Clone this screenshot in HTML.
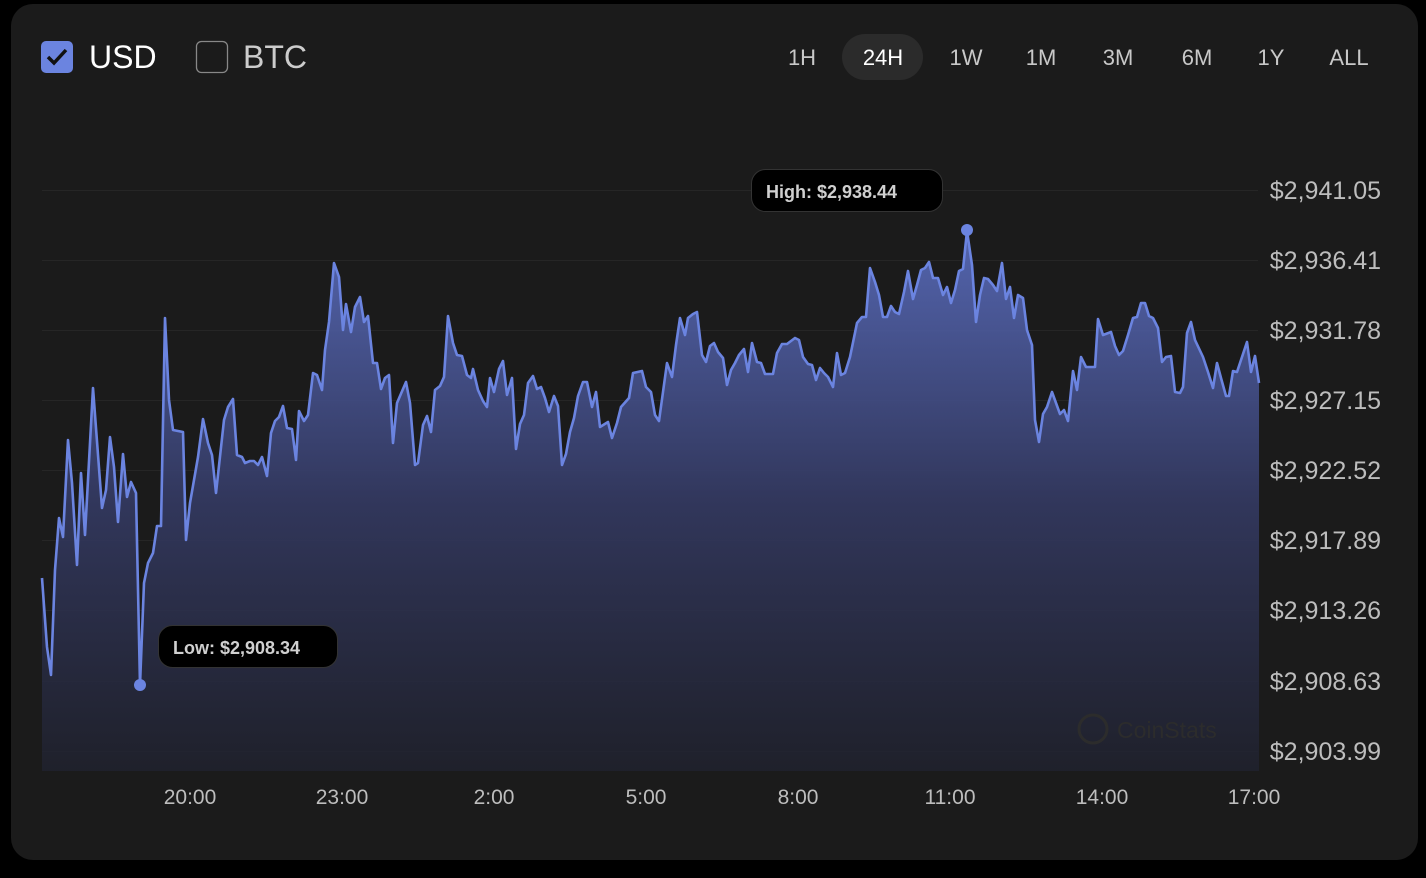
<!DOCTYPE html>
<html><head><meta charset="utf-8"><style>
html,body{margin:0;padding:0;background:#000;width:1426px;height:878px;overflow:hidden;font-family:"Liberation Sans",sans-serif}
.card{position:absolute;left:11px;top:4px;width:1407px;height:856px;background:#1b1b1b;border-radius:22px}
</style></head><body>
<div class="card"></div>
<svg width="1426" height="878" style="position:absolute;left:0;top:0">
<defs><linearGradient id="g" gradientUnits="userSpaceOnUse" x1="0" y1="230" x2="0" y2="771">
<stop offset="0" stop-color="#5a6dbf" stop-opacity="0.9"/><stop offset="0.5" stop-color="#343a63" stop-opacity="0.9"/><stop offset="1" stop-color="#20222f" stop-opacity="0.8"/></linearGradient></defs>
<g stroke="#262626" stroke-width="1">
<line x1="42" x2="1258" y1="190.5" y2="190.5"/><line x1="42" x2="1258" y1="260.5" y2="260.5"/><line x1="42" x2="1258" y1="330.5" y2="330.5"/><line x1="42" x2="1258" y1="400.5" y2="400.5"/><line x1="42" x2="1258" y1="470.5" y2="470.5"/><line x1="42" x2="1258" y1="540.5" y2="540.5"/><line x1="42" x2="1258" y1="610.5" y2="610.5"/><line x1="42" x2="1258" y1="681.5" y2="681.5"/><line x1="42" x2="1258" y1="751.5" y2="751.5"/>
</g>
<polygon id="area" fill="url(#g)" points=""/>
<polyline id="ln" fill="none" stroke="#6b84e0" stroke-width="2.6" stroke-linejoin="round" points=""/>
<circle cx="140" cy="685" r="6" fill="#6b84e0"/>
<circle cx="967" cy="230" r="6" fill="#6b84e0"/>
<rect x="158.5" y="625.5" width="179" height="42" rx="14" fill="#000" stroke="#333"/>
<text x="173" y="654" fill="#d0d0d0" font-size="18" font-weight="bold" font-family="Liberation Sans">Low: $2,908.34</text>
<rect x="751.5" y="169.5" width="191" height="42" rx="14" fill="#000" stroke="#333"/>
<text x="766" y="198" fill="#d0d0d0" font-size="18" font-weight="bold" font-family="Liberation Sans">High: $2,938.44</text>
<circle cx="1093" cy="729" r="14" fill="none" stroke="#2c2c2c" stroke-width="3"/>
<text x="1117" y="738" fill="#2c2c2c" font-size="23" font-family="Liberation Sans">CoinStats</text>
<g fill="#bdbdbd" font-size="25" text-anchor="end" font-family="Liberation Sans">
<text x="1381" y="199">$2,941.05</text><text x="1381" y="269">$2,936.41</text><text x="1381" y="339">$2,931.78</text><text x="1381" y="409">$2,927.15</text><text x="1381" y="479">$2,922.52</text><text x="1381" y="549">$2,917.89</text><text x="1381" y="619">$2,913.26</text><text x="1381" y="690">$2,908.63</text><text x="1381" y="760">$2,903.99</text>
</g>
<g fill="#bdbdbd" font-size="21" text-anchor="middle" font-family="Liberation Sans">
<text x="190" y="804">20:00</text><text x="342" y="804">23:00</text><text x="494" y="804">2:00</text><text x="646" y="804">5:00</text><text x="798" y="804">8:00</text><text x="950" y="804">11:00</text><text x="1102" y="804">14:00</text><text x="1254" y="804">17:00</text>
</g>
<rect x="41" y="41" width="32" height="32" rx="5" fill="#6b84e0"/>
<polyline points="48,57 54,63 66,50" fill="none" stroke="#111" stroke-width="3.5"/>
<rect x="196.5" y="41.5" width="31" height="31" rx="5" fill="none" stroke="#888" stroke-width="1.3"/>
<text x="89" y="68" fill="#fff" font-size="32" font-family="Liberation Sans">USD</text>
<text x="243" y="68" fill="#ccc" font-size="32" font-family="Liberation Sans">BTC</text>
<rect x="842" y="34" width="81" height="46" rx="23" fill="#2b2b2b"/>
<g fill="#c8c8c8" font-size="22" text-anchor="middle" font-family="Liberation Sans">
<text x="802" y="65">1H</text><text x="883" y="65" fill="#fff">24H</text><text x="966" y="65">1W</text><text x="1041" y="65">1M</text><text x="1118" y="65">3M</text><text x="1197" y="65">6M</text><text x="1271" y="65">1Y</text><text x="1349" y="65">ALL</text>
</g>
</svg>
<script>
var p="42,578 47,647 51,675 55,570 59,518 63,537 68,440 72,483 77,565 81,473 85,535 93,388 102,508 106,490 110,437 114,467 118,522 123,454 127,497 131,482 136,493 140,685 144,583 148,563 153,553 157,526 161,526 165,318 169,400 173,430 183,432 186,540 190,503 198,457 203,419 208,443 212,455 216,493 224,420 228,407 233,399 237,455 242,457 245,463 250,461 254,461 258,465 262,457 267,476 271,433 275,421 279,417 283,406 287,428 292,429 296,460 299,411 304,421 308,415 313,373 317,375 322,390 325,350 329,322 334,263 339,277 343,330 346,304 351,332 355,307 360,297 364,322 368,316 373,363 377,363 381,389 385,378 389,375 393,443 397,403 406,382 410,403 415,465 418,463 423,425 427,416 431,432 435,390 440,386 444,377 448,316 453,343 457,355 462,356 467,375 471,378 473,369 478,390 483,401 487,407 490,378 494,392 499,369 503,361 507,395 512,378 516,449 520,424 524,415 528,383 533,376 537,389 541,387 545,398 549,412 554,396 558,406 562,465 566,454 570,432 574,418 578,396 583,382 587,382 592,407 596,392 600,427 608,422 612,438 617,423 621,407 629,398 633,373 642,371 646,387 651,392 655,415 659,421 663,392 667,363 672,377 676,345 680,318 685,335 688,318 693,314 697,312 702,355 706,362 710,346 714,343 718,352 723,358 727,385 731,370 735,363 739,355 744,349 748,372 752,343 757,362 761,363 765,374 773,374 777,353 782,344 787,344 791,341 795,338 799,340 803,357 808,364 812,365 816,380 820,368 824,373 828,377 833,387 837,353 841,375 845,373 850,357 857,323 862,317 866,317 870,268 875,282 879,295 883,317 887,317 891,306 895,312 899,314 904,292 908,271 913,299 917,285 921,270 925,268 929,262 933,278 938,278 943,295 947,287 951,303 955,290 959,271 963,269 967,231 972,265 976,322 980,295 984,278 988,279 993,285 997,291 1002,263 1006,299 1010,287 1014,318 1018,295 1023,298 1027,330 1032,345 1035,420 1039,442 1043,414 1047,407 1052,392 1056,403 1060,414 1064,410 1068,421 1073,371 1077,390 1081,357 1086,367 1095,367 1098,319 1103,335 1111,332 1115,346 1119,355 1123,351 1128,335 1133,318 1137,317 1141,303 1145,303 1149,316 1153,318 1158,328 1162,362 1166,357 1171,356 1175,392 1180,393 1183,387 1187,333 1191,322 1195,340 1203,357 1208,372 1213,388 1217,363 1221,378 1226,396 1229,396 1233,371 1237,372 1242,357 1247,342 1251,372 1255,356 1259,383";
document.getElementById('ln').setAttribute('points',p);
document.getElementById('area').setAttribute('points',p+" 1259,771 42,771");
</script>
</body></html>
